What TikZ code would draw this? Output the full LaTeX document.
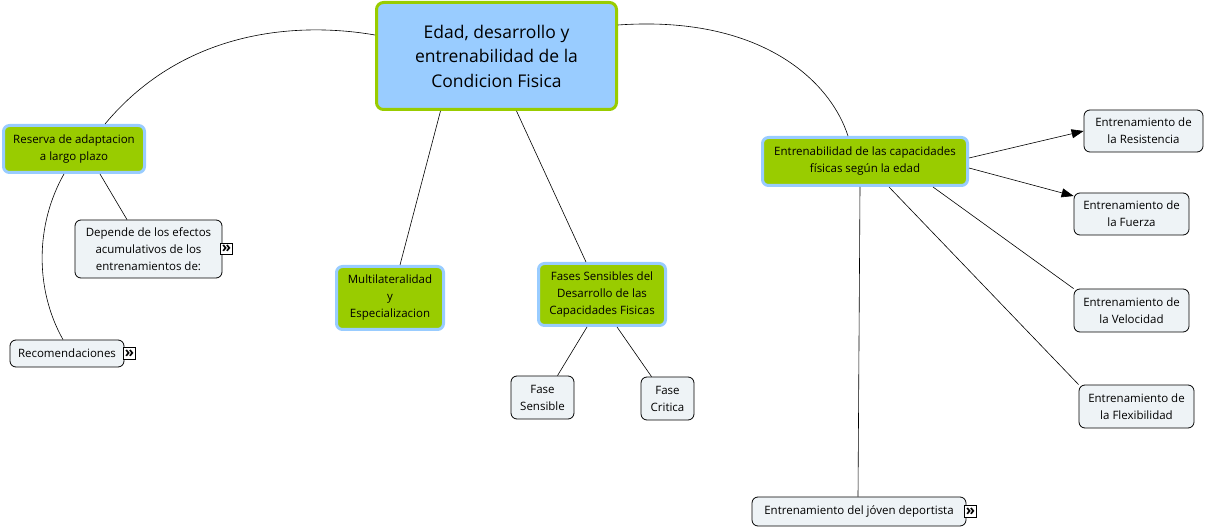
\documentclass[tikz,border=0pt]{standalone}
\usepackage{fontspec}
\setmainfont{Open Sans}
\usetikzlibrary{arrows.meta}
\definecolor{cmapgreen}{HTML}{99CC00}
\definecolor{cmapblue}{HTML}{99CCFF}
\definecolor{leaffill}{HTML}{EEF3F6}

\begin{document}
\begin{tikzpicture}[x = 1pt, y = -1pt,
        topic/.style = {draw = cmapgreen, line width = 3pt, fill = cmapblue, rounded corners = 7pt, align = center, inner sep = 0pt, font = \fontsize{17.5}{24.5}\selectfont},
        concept/.style = {draw = cmapblue, line width = 3pt, fill = cmapgreen, rounded corners = 6pt, align = center, inner sep = 0pt, font = \fontsize{11.5}{17}\selectfont},
        leaf/.style = {draw, line width = 0.8pt, fill = leaffill, rounded corners = 6pt, align = center, inner sep = 0pt, font = \fontsize{11.5}{17}\selectfont},
        more/.style = {draw, line width = 0.6pt, fill = white, minimum size = 11.5pt, inner sep = 0pt, anchor = west, font = \fontsize{15}{15}\bfseries},
        link/.style = {line width = 0.6pt},
        tip/.style = {line width = 0.6pt, -{Triangle[length = 12pt, width = 9pt]}}]
    \useasboundingbox (0, 0) rectangle (1205, 529);

    % nodes
    \node[topic, minimum width = 240pt, minimum height = 107pt] (main) at (496.5, 56) {Edad, desarrollo y\\entrenabilidad de la\\Condicion Fisica};
    \node[concept, minimum width = 141pt, minimum height = 47pt] (reserva) at (74, 149) {Reserva de adaptacion\\a largo plazo};
    \node[leaf, minimum width = 147pt, minimum height = 58pt] (depende) at (148.5, 249) {Depende de los efectos\\acumulativos de los\\entrenamientos de:};
    \node[leaf, minimum width = 114pt, minimum height = 27pt] (recom) at (67, 353.5) {Recomendaciones};
    \node[concept, minimum width = 107pt, minimum height = 63pt] (multi) at (390, 298) {Multilateralidad\\y\\Especializacion};
    \node[concept, minimum width = 127pt, minimum height = 62pt] (fases) at (602, 294.5) {Fases Sensibles del\\Desarrollo de las\\Capacidades Fisicas};
    \node[leaf, minimum width = 63pt, minimum height = 43pt] (fsens) at (542.5, 397.5) {Fase\\Sensible};
    \node[leaf, minimum width = 53pt, minimum height = 43pt] (fcrit) at (667.5, 398.5) {Fase\\Critica};
    \node[concept, minimum width = 205pt, minimum height = 48pt] (entren) at (865, 161.5) {Entrenabilidad de las capacidades\\físicas según la edad};
    \node[leaf, minimum width = 119pt, minimum height = 42pt] (resis) at (1143.5, 131) {Entrenamiento de\\la Resistencia};
    \node[leaf, minimum width = 115pt, minimum height = 42pt] (fuerza) at (1131.5, 214) {Entrenamiento de\\la Fuerza};
    \node[leaf, minimum width = 115pt, minimum height = 43pt] (veloc) at (1131.5, 310.5) {Entrenamiento de\\la Velocidad};
    \node[leaf, minimum width = 115pt, minimum height = 43pt] (flex) at (1136.5, 406.5) {Entrenamiento de\\la Flexibilidad};
    \node[leaf, minimum width = 214pt, minimum height = 29pt] (joven) at (859, 511.5) {Entrenamiento del jóven deportista};

    % icons
    \node[more] (dependemore) at ([xshift = -2pt]depende.east) {»};
    \node[more] (recommore) at ([xshift = -1pt]recom.east) {»};
    \node[more] (jovenmore) at ([xshift = -2pt]joven.east) {»};

    % links
    \draw[link] ([yshift = 21pt]main.west) .. controls (300, 22) and (185, 28) .. ([xshift = 31pt]reserva.north);
    \draw[link] ([yshift = 31pt]main.east) .. controls (760, 15) and (830, 80) .. ([xshift = -17pt]entren.north);
    \draw[link] ([xshift = 26pt]reserva.south) -- ([xshift = -21.5pt]depende.north);
    \draw[link] ([xshift = -10pt]reserva.south) .. controls (35, 225) and (35, 290) .. ([xshift = -4pt]recom.north);
    \draw[link] ([xshift = -56pt]main.south) -- ([xshift = 10pt]multi.north);
    \draw[link] ([xshift = 20pt]main.south) -- ([xshift = -16pt]fases.north);
    \draw[link] ([xshift = -15pt]fases.south) -- ([xshift = 15pt]fsens.north);
    \draw[link] ([xshift = 15pt]fases.south) -- ([xshift = -16pt]fcrit.north);
    \draw[tip] ([yshift = 3.5pt]entren.east) -- (resis.west);
    \draw[tip] ([yshift = -6.5pt]entren.east) -- ([yshift = 18pt]fuerza.west);
    \draw[link] ([xshift = 68pt]entren.south) -- (veloc.north west);
    \draw[link] ([xshift = 24pt]entren.south) -- (flex.north west);
    \draw[link] ([xshift = -5pt]entren.south) -- ([xshift = -1pt]joven.north);
\end{tikzpicture}
\end{document}
